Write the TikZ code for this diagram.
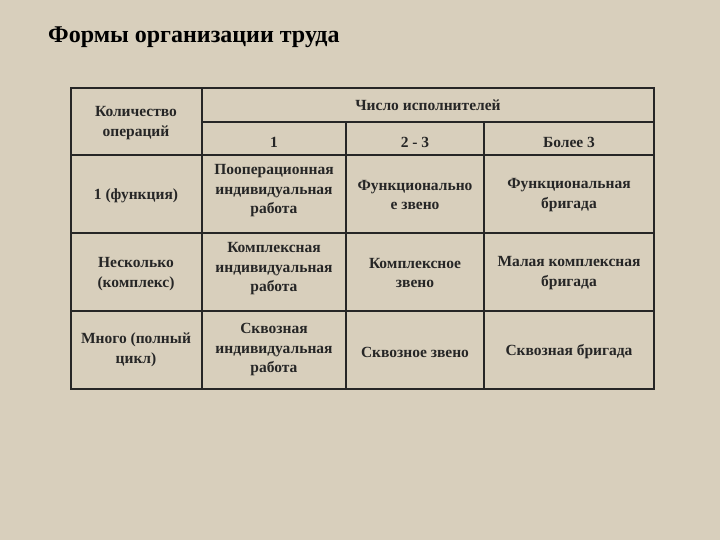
\documentclass[tikz,border=0pt]{standalone}
\usepackage{fontspec}
\setmainfont{Liberation Serif}
\definecolor{bg}{RGB}{216,207,188}
\begin{document}
\begin{tikzpicture}[x=1pt,y=-1pt,
 cell/.style={font=\bfseries\fontsize{15.5}{19.5}\selectfont,align=center,text=black!85},
 grid/.style={line width=1.2pt,black!85}]
\fill[bg] (0,0) rectangle (720,540);
\useasboundingbox (0,0) rectangle (720,540);
\node[font=\bfseries\fontsize{24}{28}\selectfont,anchor=west,inner sep=0pt] (title) at (48,37) {Формы организации труда};
\draw[grid] (71,88) rectangle (654,389);
\foreach \y in {155,233,311} \draw[grid] (71,\y) -- (654,\y);
\draw[grid] (202,122) -- (654,122);
\draw[grid] (202,88) -- (202,389);
\draw[grid] (346,122) -- (346,389);
\draw[grid] (484,122) -- (484,389);
\node[cell] (h0) at (136,123) {Количество\\операций};
\node[cell] (h) at (428,105) {Число исполнителей};
\node[cell] (c1) at (274,142) {1};
\node[cell] (c2) at (415,142) {2 - 3};
\node[cell] (c3) at (569,142) {Более 3};
\node[cell] (r1) at (136,196) {1 (функция)};
\node[cell] (r2) at (136,274) {Несколько\\(комплекс)};
\node[cell] (r3) at (136,350) {Много (полный\\цикл)};
\node[cell] (a11) at (274,191) {Пооперационная\\индивидуальная\\работа};
\node[cell] (a12) at (415,195) {Функционально\\е звено};
\node[cell] (a13) at (569,195) {Функциональная\\бригада};
\node[cell] (a21) at (274,269) {Комплексная\\индивидуальная\\работа};
\node[cell] (a22) at (415,273) {Комплексное\\звено};
\node[cell] (a23) at (569,273) {Малая комплексная\\бригада};
\node[cell] (a31) at (274,350) {Сквозная\\индивидуальная\\работа};
\node[cell] (a32) at (415,352) {Сквозное звено};
\node[cell] (a33) at (569,352) {Сквозная бригада};
\end{tikzpicture}
\end{document}
